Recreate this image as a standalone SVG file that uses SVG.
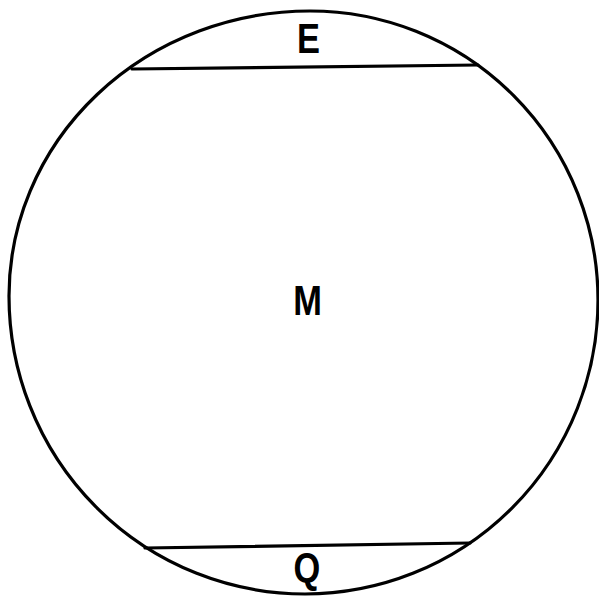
<svg xmlns="http://www.w3.org/2000/svg" width="599" height="596" viewBox="0 0 599 596">
<style>
.ln{fill:none;stroke:#000;stroke-width:3.2;stroke-linecap:round}
.lb{font-family:"Liberation Sans",Arial,sans-serif;font-weight:bold;font-size:42px;text-anchor:middle;fill:#000}
</style>
<rect width="599" height="596" fill="#fff"/>
<g id="connectors">
<path class="ln" d="M310,11 A288,289 0 0 1 598,300 A293,294 0 0 1 305,594 A296,298 0 0 1 9,296 A301,285 0 0 1 310,11 Z"/>
<line class="ln" x1="132" y1="69" x2="478" y2="65"/>
<line class="ln" x1="145" y1="548" x2="470" y2="543"/>
</g>
<g id="E"><text class="lb" transform="translate(308.5,53) scale(0.82,1)">E</text></g>
<g id="M"><text class="lb" transform="translate(307.5,315) scale(0.82,1)">M</text></g>
<g id="Q"><text class="lb" transform="translate(307,582) scale(0.82,1)">Q</text></g>
</svg>
